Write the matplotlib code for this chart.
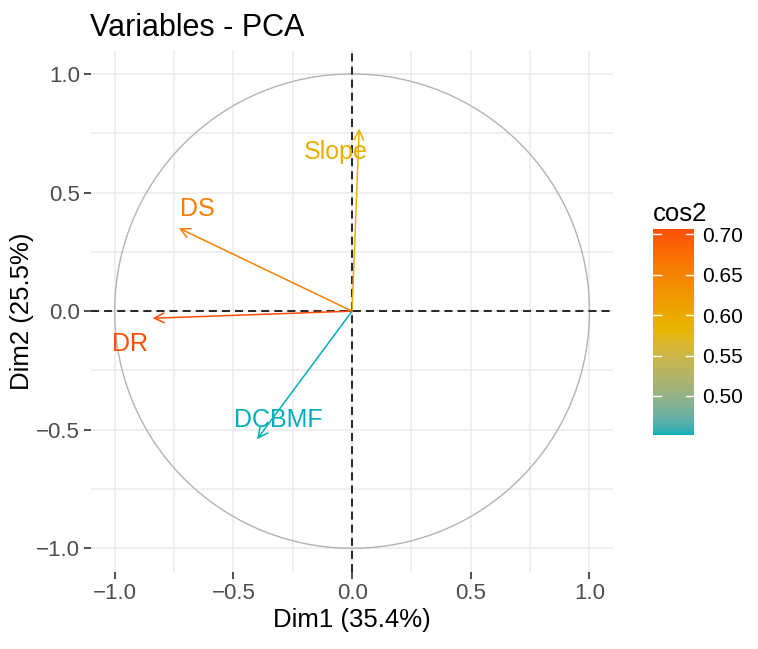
import matplotlib
matplotlib.use("Agg")
import matplotlib.pyplot as plt
import numpy as np
from matplotlib.colors import ListedColormap, Normalize, to_rgb

plt.rcParams["font.family"] = ["Liberation Sans", "DejaVu Sans"]

# variable coordinates on Dim1 / Dim2
variables = ["Slope", "DS", "DR", "DCBMF"]
dim1 = [0.03, -0.73, -0.84, -0.40]
dim2 = [0.77, 0.35, -0.03, -0.54]
# where the (repelled) labels ended up
label_x = [-0.07, -0.65, -0.935, -0.31]
label_y = [0.67, 0.43, -0.14, -0.46]

x_title = "Dim1 (35.4%)"
y_title = "Dim2 (25.5%)"
ticks = [-1.0, -0.5, 0.0, 0.5, 1.0]
cb_ticks = [0.50, 0.55, 0.60, 0.65, 0.70]

GRAD = ["#00AFBB", "#E7B800", "#FC4E07"]


# ggplot interpolates gradients in CIELAB, do the same
def srgb_to_lab(c):
    c = np.asarray(c, dtype=float)
    lin = np.where(c <= 0.04045, c / 12.92, ((c + 0.055) / 1.055) ** 2.4)
    m = np.array([[0.4124, 0.3576, 0.1805],
                  [0.2126, 0.7152, 0.0722],
                  [0.0193, 0.1192, 0.9505]])
    xyz = m @ lin / np.array([0.95047, 1.0, 1.08883])
    f = np.where(xyz > 0.008856, np.cbrt(xyz), 7.787 * xyz + 16 / 116)
    return np.array([116 * f[1] - 16, 500 * (f[0] - f[1]), 200 * (f[1] - f[2])])


def lab_to_srgb(lab):
    L, a, b = lab
    fy = (L + 16) / 116
    fx = fy + a / 500
    fz = fy - b / 200
    f = np.array([fx, fy, fz])
    xyz = np.where(f ** 3 > 0.008856, f ** 3, (f - 16 / 116) / 7.787)
    xyz = xyz * np.array([0.95047, 1.0, 1.08883])
    m = np.array([[3.2406, -1.5372, -0.4986],
                  [-0.9689, 1.8758, 0.0415],
                  [0.0557, -0.2040, 1.0570]])
    lin = m @ xyz
    c = np.where(lin <= 0.0031308, 12.92 * lin, 1.055 * np.clip(lin, 0, None) ** (1 / 2.4) - 0.055)
    return np.clip(c, 0, 1)


labs = [srgb_to_lab(to_rgb(h)) for h in GRAD]
ramp = []
for t in np.linspace(0, 1, 256):
    seg = min(int(t * 2), 1)
    u = t * 2 - seg
    ramp.append(lab_to_srgb(labs[seg] * (1 - u) + labs[seg + 1] * u))
cmap = ListedColormap(ramp)

cos2 = np.array(dim1) ** 2 + np.array(dim2) ** 2
norm = Normalize(cos2.min(), cos2.max())

fig = plt.figure(figsize=(7.58, 6.49), dpi=100)
ax = fig.add_axes([0.120, 0.1186, 0.689, 0.804])
cax = fig.add_axes([0.8615, 0.3297, 0.054, 0.3174])

ax.set_xlim(-1.1, 1.1)
ax.set_ylim(-1.1, 1.1)
ax.set_xticks(ticks)
ax.set_yticks(ticks)
ax.set_xticks([-0.75, -0.25, 0.25, 0.75], minor=True)
ax.set_yticks([-0.75, -0.25, 0.25, 0.75], minor=True)
ax.grid(which="both", color="#EBEBEB", lw=1.1)
ax.set_axisbelow(True)
for s in ax.spines.values():
    s.set_visible(False)
ax.tick_params(which="major", length=5, width=1.2, color="#333333",
               labelsize=16, labelcolor="#4D4D4D", pad=3)
ax.tick_params(which="minor", length=0)
ax.set_xticklabels(["\u22121.0", "\u22120.5", "0.0", "0.5", "1.0"])
ax.set_yticklabels(["\u22121.0", "\u22120.5", "0.0", "0.5", "1.0"])

# correlation circle
th = np.linspace(0, 2 * np.pi, 400)
ax.plot(np.cos(th), np.sin(th), color="#B3B3B3", lw=1.0, zorder=2)

ax.axhline(0, color="#2B2B2B", ls=(0, (4, 2.5)), lw=1.45, zorder=3)
ax.axvline(0, color="#2B2B2B", ls=(0, (4, 2.5)), lw=1.45, zorder=3)

for name, x, y, lx, ly, c in zip(variables, dim1, dim2, label_x, label_y, cos2):
    col = cmap(norm(c))
    ax.annotate("", xy=(x, y), xytext=(0, 0),
                arrowprops=dict(arrowstyle="->,head_length=0.5,head_width=0.25",
                                color=col, lw=1.1, shrinkA=0, shrinkB=0,
                                mutation_scale=14),
                zorder=4)
    ax.text(lx, ly, name, color=col, fontsize=18, ha="center", va="center", zorder=5)

ax.set_xlabel(x_title, fontsize=18.5, labelpad=3)
ax.set_ylabel(y_title, fontsize=18.5, labelpad=1)
ax.set_title("Variables - PCA", fontsize=22, loc="left", x=-0.002, pad=10)

# colourbar legend
grad = np.linspace(cos2.min(), cos2.max(), 256).reshape(-1, 1)
cax.imshow(grad, aspect="auto", origin="lower", cmap=cmap, norm=norm,
           extent=[0, 1, cos2.min(), cos2.max()])
cax.set_xlim(0, 1)
cax.set_xticks([])
cax.yaxis.tick_right()
cax.set_yticks(cb_ticks)
cax.set_yticklabels([f"{v:.2f}" for v in cb_ticks])
cax.tick_params(axis="y", labelsize=15, labelcolor="black", length=0, pad=6)
for v in cb_ticks:
    cax.plot([0, 0.2], [v, v], color="white", lw=1)
    cax.plot([0.8, 1], [v, v], color="white", lw=1)
for s in cax.spines.values():
    s.set_visible(False)
cax.set_title("cos2", fontsize=18.5, loc="left", pad=6)

fig.savefig("out.png", dpi=100)
